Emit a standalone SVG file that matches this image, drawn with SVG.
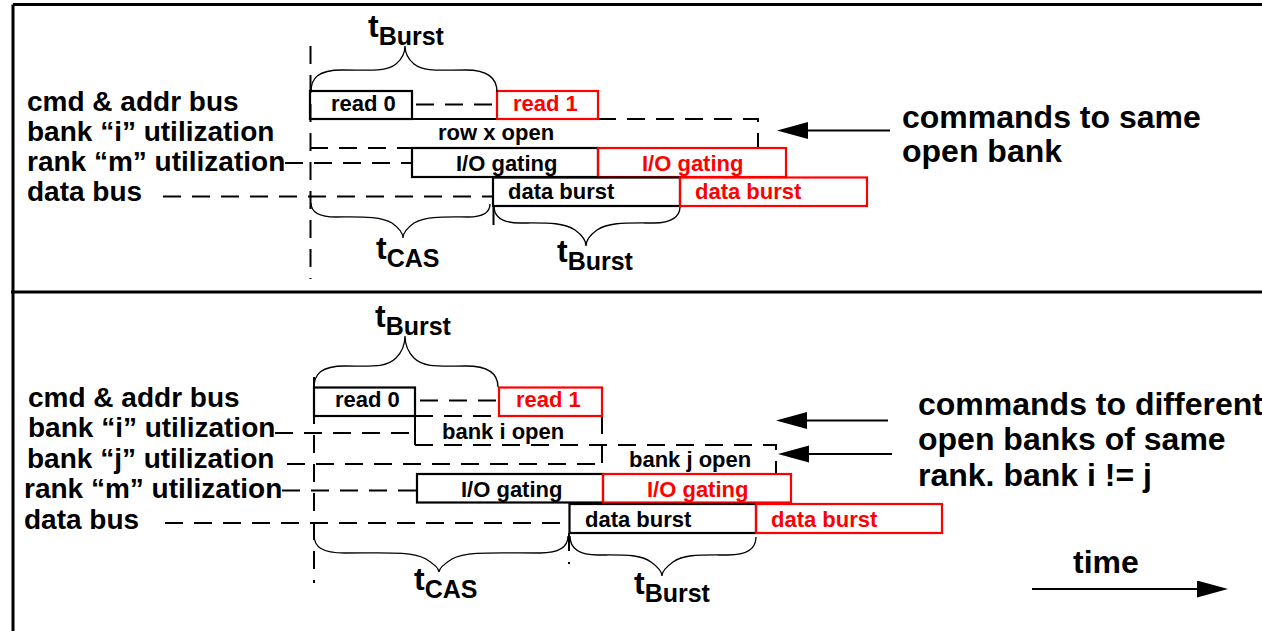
<svg xmlns="http://www.w3.org/2000/svg" width="1262" height="631" viewBox="0 0 1262 631">
  <style>
    text { font-family: "Liberation Sans", Arial, Helvetica, sans-serif; font-weight: bold; fill: #000; }
    .lbl { font-size: 28px; }
    .note { font-size: 32px; }
    .box-t { font-size: 22px; }
    .red { fill: #ff0000; }
    .t { font-size: 32px; }
    .sub { font-size: 25px; }
    .box { fill: none; stroke: #000; stroke-width: 2.2; }
    .box.rbox { stroke: #ff0000; }
    .dash { fill: none; stroke: #000; stroke-width: 2; stroke-dasharray: 18 11; }
    .solid { fill: none; stroke: #000; stroke-width: 2; }
    .brace { fill: none; stroke: #000; stroke-width: 1.3; }
    .frame { fill: none; stroke: #000; stroke-width: 3; }
    .arrow { fill: none; stroke: #000; stroke-width: 2.2; marker-end: url(#head); }
  </style>
  <defs>
    <marker id="head" markerUnits="userSpaceOnUse" markerWidth="32" markerHeight="18" refX="21" refY="8.5" orient="auto">
      <path d="M0,0 L31,8.5 L0,17 Z" fill="#000"/>
    </marker>
  </defs>

  <rect width="1262" height="631" fill="#fff"/>

  <!-- panel frames -->
  <g id="frame">
    <path class="frame" d="M13,4.5 H1262 M13,4.5 V292 M11,292 H1262 M13,292 V631"/>
  </g>

  <!-- ===== upper panel: commands to the same open bank ===== -->
  <g id="top-labels">
    <text class="lbl" x="27" y="110.5">cmd &amp; addr bus</text>
    <text class="lbl" x="27" y="140.5">bank “i” utilization</text>
    <text class="lbl" x="27" y="170.5">rank “m” utilization</text>
    <text class="lbl" x="27" y="201">data bus</text>
  </g>

  <g id="top-connectors">
    <!-- time reference lines -->
    <path class="dash" d="M310.5,46 V279"/>
    <path class="dash" d="M493.5,207 V229"/>
    <!-- bus / utilization lanes -->
    <path class="dash" d="M416,104.5 H497"/>
    <path class="dash" d="M285,163 H412"/>
    <path class="dash" d="M163,196.5 H493"/>
    <!-- row x open extent -->
    <path class="solid" d="M412,119 H497"/>
    <path class="dash" d="M598,119 H758 V148"/>
    <path class="dash" d="M310,148 H412"/>
    <!-- pointer to the note -->
    <path class="arrow" d="M890,130.5 H787"/>
  </g>

  <g id="top-read0">
    <rect class="box" x="310" y="91" width="102" height="28"/>
    <text class="box-t" x="331" y="110.5">read 0</text>
  </g>
  <g id="top-read1">
    <rect class="box rbox" x="497" y="91" width="101" height="28"/>
    <text class="box-t red" x="513" y="110.5">read 1</text>
  </g>
  <g id="top-rowopen">
    <text class="box-t" x="438" y="140">row x open</text>
  </g>
  <g id="top-io0">
    <rect class="box" x="412" y="148" width="186" height="29"/>
    <text class="box-t" x="456" y="170.5">I/O gating</text>
  </g>
  <g id="top-io1">
    <rect class="box rbox" x="598" y="148" width="188" height="29"/>
    <text class="box-t red" x="642" y="170.5">I/O gating</text>
  </g>
  <g id="top-data0">
    <rect class="box" x="493" y="177.5" width="187" height="28.5"/>
    <text class="box-t" x="508" y="199">data burst</text>
  </g>
  <g id="top-data1">
    <rect class="box rbox" x="680" y="177.5" width="187" height="28.5"/>
    <text class="box-t red" x="695" y="199">data burst</text>
  </g>

  <g id="top-braces">
    <path class="brace" d="M311,92 C311,78 318,70 342,70 C370,70 386,72 396,64 C402,59 405,53 405,46 C405,53 408,59 414,64 C424,72 440,70 466,70 C488,70 497,78 497,92"/>
    <path class="brace" d="M311,203 C311,212 318,217 336,217 C362,217 380,216 392,223 C399,228 403,233 403,238 C403,233 407,228 414,223 C426,216 444,217 468,217 C484,217 490,212 490,204"/>
    <path class="brace" d="M494,206 C494,216 501,223 520,223 C546,223 563,222 575,230 C582,235 586,240 586,246 C586,240 590,235 597,230 C609,222 626,223 654,223 C672,223 680,216 680,207"/>
    <text x="368" y="37"><tspan class="t">t</tspan><tspan class="sub" dy="8">Burst</tspan></text>
    <text x="376" y="259"><tspan class="t">t</tspan><tspan class="sub" dy="8">CAS</tspan></text>
    <text x="557" y="262"><tspan class="t">t</tspan><tspan class="sub" dy="8">Burst</tspan></text>
  </g>

  <g id="top-note">
    <text class="note" x="902" y="128">commands to same</text>
    <text class="note" x="902" y="162">open bank</text>
  </g>

  <!-- ===== lower panel: commands to different banks of the same rank ===== -->
  <g id="bottom-labels">
    <text class="lbl" x="28" y="407">cmd &amp; addr bus</text>
    <text class="lbl" x="28" y="437">bank “i” utilization</text>
    <text class="lbl" x="27" y="468">bank “j” utilization</text>
    <text class="lbl" x="24" y="498">rank “m” utilization</text>
    <text class="lbl" x="24" y="529">data bus</text>
  </g>

  <g id="bottom-connectors">
    <!-- time reference lines -->
    <path class="dash" d="M314,377 V583"/>
    <path class="dash" d="M569,533 V564"/>
    <!-- bus / utilization lanes -->
    <path class="dash" d="M420,400.5 H499"/>
    <path class="dash" d="M275,433 H415"/>
    <path class="dash" d="M287,464 H602"/>
    <path class="dash" d="M282,490.5 H417"/>
    <path class="dash" d="M165,523 H569"/>
    <!-- bank i / bank j open extents -->
    <path class="dash" d="M415,416 H499"/>
    <path class="solid" d="M415,416 V445"/>
    <path class="dash" d="M415,445 H776 V474"/>
    <path class="dash" d="M602,416 V474"/>
    <!-- pointers to the note -->
    <path class="arrow" d="M888,420.5 H786"/>
    <path class="arrow" d="M892,454 H788"/>
    <!-- time axis -->
    <path class="arrow" d="M1032,589 H1218"/>
  </g>

  <g id="bottom-read0">
    <rect class="box" x="314" y="387.5" width="101" height="28.5"/>
    <text class="box-t" x="335" y="407">read 0</text>
  </g>
  <g id="bottom-read1">
    <rect class="box rbox" x="499" y="387.5" width="103" height="28.5"/>
    <text class="box-t red" x="516" y="407">read 1</text>
  </g>
  <g id="bottom-bankiopen">
    <text class="box-t" x="442" y="438.5">bank i open</text>
  </g>
  <g id="bottom-bankjopen">
    <text class="box-t" x="629" y="467">bank j open</text>
  </g>
  <g id="bottom-io0">
    <rect class="box" x="417" y="474" width="186" height="28.5"/>
    <text class="box-t" x="461" y="497">I/O gating</text>
  </g>
  <g id="bottom-io1">
    <rect class="box rbox" x="603" y="474" width="188" height="28.5"/>
    <text class="box-t red" x="647" y="497">I/O gating</text>
  </g>
  <g id="bottom-data0">
    <rect class="box" x="569.5" y="504" width="186.5" height="29"/>
    <text class="box-t" x="585" y="527">data burst</text>
  </g>
  <g id="bottom-data1">
    <rect class="box rbox" x="756" y="504" width="186" height="29"/>
    <text class="box-t red" x="771" y="527">data burst</text>
  </g>

  <g id="bottom-braces">
    <path class="brace" d="M314,388 C314,374 321,366 345,366 C371,366 386,368 396,358 C402,352 405,345 405,336 C405,345 408,352 414,358 C424,368 440,366 466,366 C489,366 498,374 498,387"/>
    <path class="brace" d="M314,535 C314,547 322,553 345,553 C385,553 412,551 426,559 C434,564 439,568 439,572 C439,568 444,564 452,559 C466,551 494,553 540,553 C560,553 568,547 568,536"/>
    <path class="brace" d="M570,536 C570,548 578,555 598,555 C624,555 640,554 651,562 C658,567 662,571 662,576 C662,571 666,567 673,562 C684,554 700,555 728,555 C748,555 756,548 756,537"/>
    <text x="375" y="327"><tspan class="t">t</tspan><tspan class="sub" dy="8">Burst</tspan></text>
    <text x="414" y="590"><tspan class="t">t</tspan><tspan class="sub" dy="8">CAS</tspan></text>
    <text x="634" y="594"><tspan class="t">t</tspan><tspan class="sub" dy="8">Burst</tspan></text>
  </g>

  <g id="bottom-note">
    <text class="note" x="918" y="415">commands to different</text>
    <text class="note" x="918" y="450">open banks of same</text>
    <text class="note" x="918" y="486">rank. bank i != j</text>
    <text class="note" x="1073" y="573">time</text>
  </g>
</svg>
